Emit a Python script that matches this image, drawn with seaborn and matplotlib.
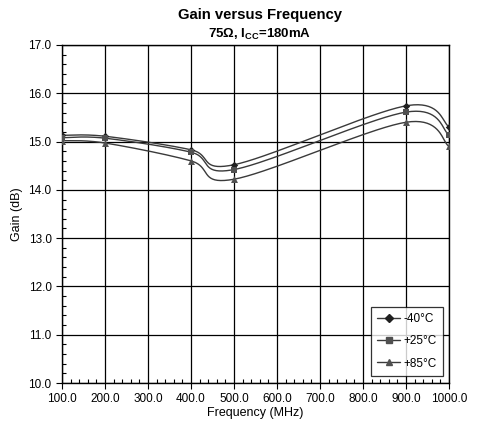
import numpy as np
import pandas as pd
import matplotlib
matplotlib.use("Agg")
import matplotlib.pyplot as plt
import seaborn as sns
from matplotlib.ticker import MultipleLocator, FormatStrFormatter

freq = [100, 200, 400, 500, 900, 1000]
gain_m40 = [15.13, 15.11, 14.83, 14.52, 15.74, 15.31]
gain_p25 = [15.08, 15.07, 14.78, 14.42, 15.61, 15.14]
gain_p85 = [15.02, 14.97, 14.60, 14.22, 15.40, 14.90]
labels = ["-40°C", "+25°C", "+85°C"]
markers = ["D", "s", "^"]
msizes = [3.8, 4.6, 5.0]
colors = ["#202020", "#505050", "#505050"]

rows = []
for lab, g in zip(labels, [gain_m40, gain_p25, gain_p85]):
    for f, v in zip(freq, g):
        rows.append({"Frequency": f, "Gain": v, "Temp": lab})
df = pd.DataFrame(rows)


def smooth(x, y, sx=387 / 900, sy=338 / 7, n=40):
    # Catmull-Rom bezier in screen space, like a spreadsheet "smoothed line"
    x = np.asarray(x, float) * sx
    y = np.asarray(y, float) * sy
    px = np.concatenate([[x[0]], x, [x[-1]]])
    py = np.concatenate([[y[0]], y, [y[-1]]])
    xs, ys = [], []
    t = np.linspace(0, 1, n)
    for i in range(1, len(px) - 2):
        p0, p1, p2, p3 = [np.array([px[j], py[j]]) for j in (i - 1, i, i + 1, i + 2)]
        c1 = p1 + (p2 - p0) / 6
        c2 = p2 - (p3 - p1) / 6
        b = ((1 - t) ** 3)[:, None] * p1 + (3 * (1 - t) ** 2 * t)[:, None] * c1 \
            + (3 * (1 - t) * t ** 2)[:, None] * c2 + (t ** 3)[:, None] * p2
        xs.append(b[:, 0])
        ys.append(b[:, 1])
    return np.concatenate(xs) / sx, np.concatenate(ys) / sy


sns.set_style("white")
plt.rcParams["font.family"] = ["Liberation Sans", "DejaVu Sans"]
plt.rcParams["text.color"] = "black"
plt.rcParams["axes.labelcolor"] = "black"

fig, ax = plt.subplots(figsize=(4.79, 4.28), dpi=100)
fig.subplots_adjust(left=0.1294, right=0.9374, top=0.8949, bottom=0.1051)

for lab, m, ms, c in zip(labels, markers, msizes, colors):
    sub = df[df["Temp"] == lab]
    cx, cy = smooth(sub["Frequency"], sub["Gain"])
    ax.plot(cx, cy, color="#3a3a3a", lw=1.0, zorder=3)
    sns.scatterplot(x=sub["Frequency"], y=sub["Gain"], marker=m, s=ms ** 2,
                    color=c, edgecolor=c, linewidth=0, zorder=4, ax=ax)
    ax.plot([], [], color="#3a3a3a", lw=1.0, marker=m, ms=ms, mfc=c, mec=c,
            label=lab)

ax.set_xlim(100, 1000)
ax.set_ylim(10, 17)
ax.xaxis.set_major_locator(MultipleLocator(100))
ax.xaxis.set_minor_locator(MultipleLocator(20))
ax.yaxis.set_major_locator(MultipleLocator(1))
ax.yaxis.set_minor_locator(MultipleLocator(0.2))
ax.xaxis.set_major_formatter(FormatStrFormatter("%.1f"))
ax.yaxis.set_major_formatter(FormatStrFormatter("%.1f"))
ax.grid(True, which="major", color="black", lw=0.9)
ax.tick_params(which="major", direction="out", length=4, width=0.8,
               labelsize=8.5, colors="black", bottom=True, left=True)
ax.tick_params(which="minor", direction="in", length=3, width=0.8,
               colors="black", bottom=True, left=True)
for s in ax.spines.values():
    s.set_color("black")
    s.set_linewidth(1.0)

ax.set_xlabel("Frequency (MHz)", fontsize=9, labelpad=1)
ax.set_ylabel("Gain (dB)", fontsize=9, labelpad=4)
fig.text(0.5425, 0.965, "Gain versus Frequency", ha="center", va="center",
         fontsize=10.7, fontweight="bold")
fig.text(0.5425, 0.919, r"75Ω, I$_{\mathregular{CC}}$=180mA", ha="center",
         va="center", fontsize=9.5, fontweight="bold")

leg = ax.legend(loc="lower right", bbox_to_anchor=(0.9845, 0.0207),
                borderaxespad=0, fontsize=8.5, frameon=True, fancybox=False,
                edgecolor="black", handlelength=1.9, labelspacing=0.85,
                borderpad=0.55, handletextpad=0.3)
leg.get_frame().set_linewidth(0.9)

fig.savefig("out.png", dpi=100)
